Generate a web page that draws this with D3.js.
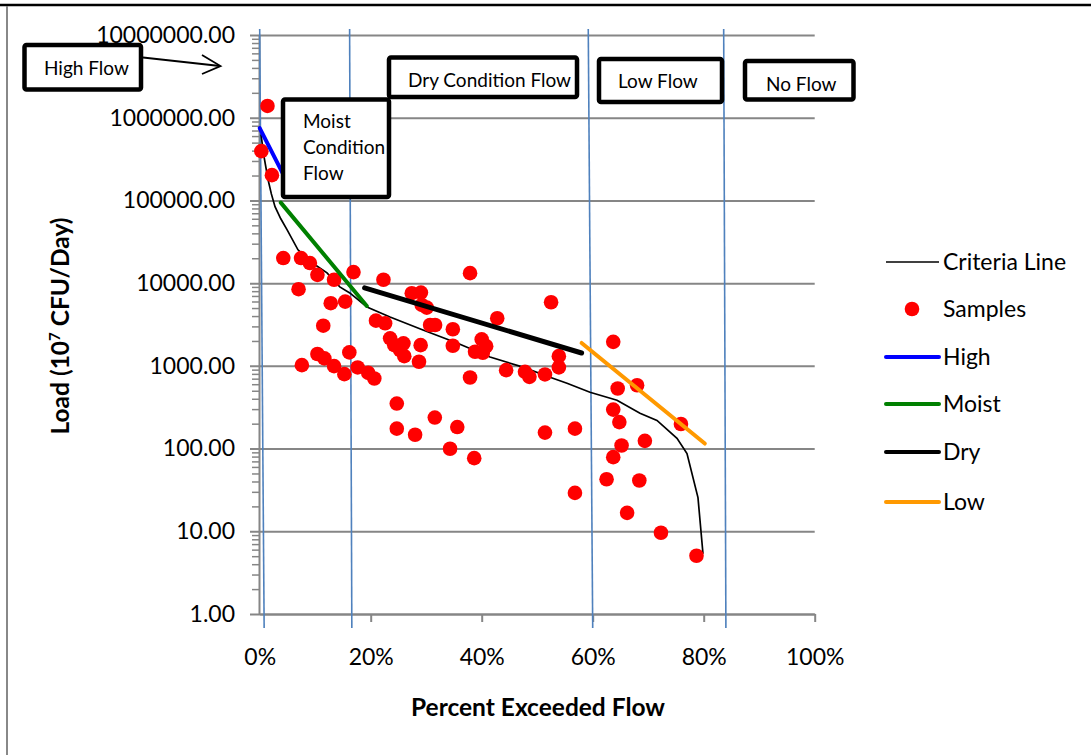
<!DOCTYPE html>
<html><head><meta charset="utf-8">
<script src="https://cdn.jsdelivr.net/npm/d3@7"></script>
<style>
html,body{margin:0;padding:0;background:#fff;}
svg{display:block;font-family:Lato,'Open Sans',sans-serif;}
</style></head><body>
<svg id="chart" width="1091" height="755"></svg>
<script>
// ---------- data ----------
const xTicks = [0, 20, 40, 60, 80, 100];
const yTicks = [1, 10, 100, 1000, 10000, 100000, 1000000, 10000000];

const criteriaX = [0.23,0.77,1.5,2.1,2.76,3.8,4.92,6.9,9.5,12.13,14.43,16.23,19.33,23.48,29.42,35.55,41.5,47.44,52.31,55.37,59.51,64.38,68.52,71.58,75.19,76.99,78.97,79.87];
const criteriaY = [630000,340000,179000,120000,84000,60000,44300,25300,17500,13300,9000,7620,5150,3900,2710,1890,1280,964,729,617,480,384,267,219,133,87,25.5,5.35];

const sampleX = [1.4,0.3,2.2,4.25,7.45,9.05,10.4,13.4,16.9,22.3,37.9,7.0,12.8,15.4,11.45,20.95,22.6,27.4,29.05,29.2,30.1,30.7,31.6,34.8,42.8,23.5,24.25,25.9,25.3,26.05,29.0,28.7,34.8,40.0,40.8,38.8,40.2,10.4,11.65,7.6,13.4,16.15,15.25,17.65,19.55,20.65,37.9,44.4,47.8,48.6,24.7,31.55,24.7,28.0,35.6,34.3,38.65,52.5,53.9,53.9,51.4,63.7,64.5,68.0,63.7,64.8,75.9,51.4,56.8,65.2,69.4,63.7,62.5,68.4,56.8,66.2,72.3,78.7];
const sampleY = [1387000,394000,202000,20100,20100,17500,12600,11000,13600,11000,13200,8450,5720,5980,3060,3520,3270,7560,7690,5450,5060,3120,3120,2770,3760,2150,1780,1870,1550,1310,1780,1120,1750,2090,1730,1480,1440,1390,1230,1020,993,1455,794,957,823,703,723,887,846,736,350,237,174,147,182,99.6,76.6,5880,1310,957,787,1950,532,583,296,209,198,156,174,109,124,78.8,42.6,41.1,29.1,16.7,9.6,5.06];

const highX = [0, 5];      const highY = [750000, 164000];
const moistX = [3.8, 19.3]; const moistY = [94000, 5300];
const dryX = [18.9, 58.0];  const dryY = [8770, 1430];
const lowX = [58.0, 80.2];  const lowY = [1890, 115];

// flow-zone divider lines (percent at top / bottom)
const zoneTop = [0.0, 16.2, 59.2, 83.6];
const zoneBottom = [0.8, 16.6, 60.0, 84.0];

const legendLabels = ["Criteria Line", "Samples", "High", "Moist", "Dry", "Low"];
const zoneLabels = [["High Flow"], ["Moist", "Condition", "Flow"], ["Dry Condition Flow"], ["Low Flow"], ["No Flow"]];

// ---------- layout ----------
const svg = d3.select("#chart");
const L = { left: 259.7, right: 814.7, top: 35, bottom: 614 };
const x = d3.scaleLinear().domain([0, 100]).range([L.left, L.right]);
const y = d3.scaleLog().domain([1, 1e7]).range([L.bottom, L.top]);
const gridCol = "#868686";

// outer frame pieces
svg.append("line").attr("x1", 0).attr("x2", 1091).attr("y1", 5).attr("y2", 5)
  .attr("stroke", "#000").attr("stroke-width", 2.5);
svg.append("line").attr("x1", 7).attr("x2", 7).attr("y1", 6).attr("y2", 755)
  .attr("stroke", "#888").attr("stroke-width", 2);

// horizontal gridlines + y labels
const gy = svg.append("g").attr("transform", `translate(250,0)`)
  .call(d3.axisLeft(y).tickValues(yTicks).tickFormat(d3.format(".2f"))
    .tickSize(-(L.right - 250)).tickPadding(15));
gy.select(".domain").remove();
gy.selectAll(".tick line").attr("stroke", gridCol).attr("stroke-width", 2);
gy.selectAll(".tick text").attr("font-size", 23).attr("fill", "#000")
  .attr("font-family", "Lato");

// minor ticks on y axis
const minor = [];
for (let e = 0; e < 7; e++) for (let m = 2; m <= 9; m++) minor.push(m * Math.pow(10, e));
const gm = svg.append("g").attr("transform", `translate(${L.left - 0.7},0)`)
  .call(d3.axisLeft(y).tickValues(minor).tickFormat("").tickSize(7).tickSizeOuter(0));
gm.selectAll("line").attr("stroke", gridCol).attr("stroke-width", 1.5);
gm.select(".domain").attr("stroke", gridCol).attr("stroke-width", 2);

// x axis
const gx = svg.append("g").attr("transform", `translate(0,${L.bottom})`)
  .call(d3.axisBottom(x).tickValues(xTicks).tickFormat(d => d + "%")
    .tickSize(8).tickSizeOuter(0).tickPadding(27));
gx.select(".domain").attr("stroke", gridCol).attr("stroke-width", 2);
gx.selectAll(".tick line").attr("stroke", gridCol).attr("stroke-width", 2);
gx.selectAll(".tick text").attr("font-size", 23).attr("fill", "#000").attr("font-family", "Lato");
gx.selectAll(".tick").filter(d => d === 0).select("line").remove();

// zone divider lines
svg.append("g").selectAll("line").data(zoneTop).join("line")
  .attr("x1", d => x(d)).attr("y1", L.top - 6)
  .attr("x2", (d, i) => x(zoneBottom[i])).attr("y2", L.bottom + 14)
  .attr("stroke", "#4F81BD").attr("stroke-width", 1.6);

// criteria line
const line = d3.line().x(d => x(d[0])).y(d => y(d[1]));
svg.append("path").datum(criteriaX.map((v, i) => [v, criteriaY[i]]))
  .attr("d", line).attr("fill", "none").attr("stroke", "#000").attr("stroke-width", 1.7);

// samples
svg.append("g").selectAll("circle").data(sampleX.map((v, i) => [v, sampleY[i]])).join("circle")
  .attr("cx", d => x(d[0])).attr("cy", d => y(d[1])).attr("r", 7.3).attr("fill", "#FF0000");

// zone regressions
const segs = [
  { xs: highX, ys: highY, c: "#0000FF", w: 4 },
  { xs: moistX, ys: moistY, c: "#008000", w: 4 },
  { xs: dryX, ys: dryY, c: "#000000", w: 5 },
  { xs: lowX, ys: lowY, c: "#FF9900", w: 4 },
];
segs.forEach(s => {
  svg.append("path").datum(s.xs.map((v, i) => [v, s.ys[i]]))
    .attr("d", line).attr("fill", "none").attr("stroke", s.c)
    .attr("stroke-width", s.w).attr("stroke-linecap", "round");
});

// annotation boxes
const boxes = [
  { r: [24.5, 45, 116.5, 44.5], tx: 44, ty: [75] },
  { r: [389, 57.5, 188, 39.5], tx: 408, ty: [86.5] },
  { r: [283, 99.5, 106, 97.5], tx: 303, ty: [128, 154, 180] },
  { r: [599, 59, 123, 43], tx: 618, ty: [88] },
  { r: [745, 61, 108.5, 38.5], tx: 766, ty: [90.5] },
];
const boxLabelIdx = [0, 2, 1, 3, 4];
boxes.forEach((b, i) => {
  svg.append("rect").attr("x", b.r[0]).attr("y", b.r[1]).attr("width", b.r[2]).attr("height", b.r[3])
    .attr("rx", 2).attr("fill", "#fff").attr("stroke", "#000").attr("stroke-width", 4.5);
  zoneLabels[boxLabelIdx[i]].forEach((t, k) => {
    svg.append("text").attr("x", b.tx).attr("y", b.ty[k]).attr("font-size", 19).text(t);
  });
});

// arrow
svg.append("line").attr("x1", 143).attr("y1", 57.5).attr("x2", 220).attr("y2", 66)
  .attr("stroke", "#000").attr("stroke-width", 1.8);
svg.append("polyline").attr("points", "202,55 220.5,66 202,74")
  .attr("fill", "none").attr("stroke", "#000").attr("stroke-width", 1.8);

// axis titles
svg.append("text").attr("x", 538).attr("y", 716).attr("text-anchor", "middle")
  .attr("font-size", 24.5).attr("font-weight", "bold").text("Percent Exceeded Flow");
const yt = svg.append("text").attr("transform", "translate(69,326) rotate(-90)")
  .attr("text-anchor", "middle").attr("font-size", 24.5).attr("font-weight", "bold");
yt.append("tspan").text("Load (10");
yt.append("tspan").attr("font-size", 15).attr("dy", -9).text("7");
yt.append("tspan").attr("dy", 9).text(" CFU/Day)");

// legend
const legRows = [262, 309, 357, 404, 452, 502];
const legStyle = [
  { type: "line", c: "#000", w: 1.6 },
  { type: "dot", c: "#FF0000" },
  { type: "line", c: "#0000FF", w: 4 },
  { type: "line", c: "#008000", w: 4 },
  { type: "line", c: "#000", w: 4 },
  { type: "line", c: "#FF9900", w: 4 },
];
const lg = svg.append("g");
legendLabels.forEach((lab, i) => {
  const yy = legRows[i], s = legStyle[i];
  if (s.type === "line") {
    lg.append("line").attr("x1", 886).attr("x2", 939).attr("y1", yy).attr("y2", yy)
      .attr("stroke", s.c).attr("stroke-width", s.w).attr("stroke-linecap", s.w > 2 ? "round" : "butt");
  } else {
    lg.append("circle").attr("cx", 912).attr("cy", yy).attr("r", 7.3).attr("fill", s.c);
  }
  lg.append("text").attr("x", 943).attr("y", yy + 8.3).attr("font-size", 23).text(lab);
});
</script>
</body></html>
